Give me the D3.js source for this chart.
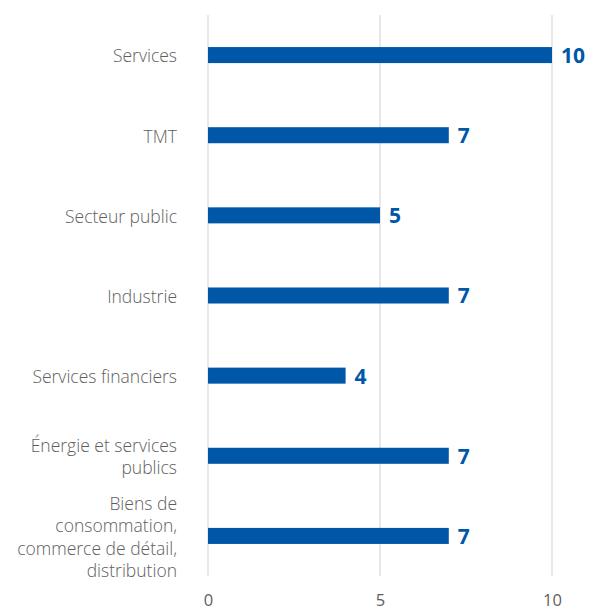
<!DOCTYPE html>
<html>
<head>
<meta charset="utf-8">
<script src="https://cdn.jsdelivr.net/npm/d3@7"></script>
<style>
  body { margin: 0; background: #fff; }
  svg { display: block; font-family: "Open Sans", "Noto Sans", sans-serif; }
</style>
</head>
<body>
<div id="chart"></div>
<script>
// data
const categories = [
  ["Services"],
  ["TMT"],
  ["Secteur public"],
  ["Industrie"],
  ["Services financiers"],
  ["Énergie et services", "publics"],
  ["Biens de", "consommation,", "commerce de détail,", "distribution"]
];
const values = [10, 7, 5, 7, 4, 7, 7];
const xTicks = [0, 5, 10];

const w = 589, h = 611;
const margin = { top: 15, right: 37, bottom: 35, left: 208 };
const barColor = "#0057a8";
const textColor = "#5e5e5e";

const svg = d3.select("#chart").append("svg")
  .attr("width", w)
  .attr("height", h);

const xScale = d3.scaleLinear().domain([0, 10]).range([margin.left, w - margin.right]);
const yScale = d3.scaleBand()
  .domain(d3.range(categories.length))
  .range([margin.top, h - margin.bottom])
  .paddingInner(0.8)
  .paddingOuter(0.4);

// gridlines
svg.append("g")
  .selectAll("line")
  .data(xTicks)
  .join("line")
    .attr("x1", d => xScale(d))
    .attr("x2", d => xScale(d))
    .attr("y1", margin.top)
    .attr("y2", h - margin.bottom)
    .attr("stroke", "#e0e0e0")
    .attr("stroke-width", 1.5);

// bottom axis, labels only
const bottomAxis = d3.axisBottom(xScale).tickValues(xTicks).tickSize(0).tickPadding(0);
const gx = svg.append("g")
  .attr("transform", `translate(0, ${h - 10})`)
  .call(bottomAxis);
gx.select(".domain").remove();
gx.selectAll("text")
  .attr("dy", "0.32em")
  .attr("y", 0)
  .attr("fill", textColor)
  .style("font-size", "16.5px")
  .style("font-family", "'Open Sans', 'Noto Sans', sans-serif");

// bars
svg.append("g")
  .selectAll("rect")
  .data(values)
  .join("rect")
    .attr("x", xScale(0))
    .attr("y", (d, i) => yScale(i))
    .attr("width", d => xScale(d) - xScale(0))
    .attr("height", yScale.bandwidth())
    .attr("fill", barColor);

// value labels
svg.append("g")
  .selectAll("text")
  .data(values)
  .join("text")
    .attr("x", d => xScale(d) + 9)
    .attr("y", (d, i) => yScale(i) + yScale.bandwidth() / 2)
    .attr("dy", "0.38em")
    .attr("fill", barColor)
    .style("font-size", "21px")
    .style("font-weight", "bold")
    .text(d => d);

// category labels
const lineH = 22.5;
const catG = svg.append("g")
  .selectAll("text")
  .data(categories)
  .join("text")
    .attr("text-anchor", "end")
    .attr("fill", textColor)
    .style("font-size", "17.5px")
    .style("font-weight", 300)
    .attr("y", (d, i) => yScale(i) + yScale.bandwidth() / 2 - (d.length - 1) * lineH / 2);

catG.selectAll("tspan")
  .data(d => d)
  .join("tspan")
    .attr("x", 177)
    .attr("dy", (d, i) => i === 0 ? "0.42em" : lineH)
    .text(d => d);
</script>
</body>
</html>
